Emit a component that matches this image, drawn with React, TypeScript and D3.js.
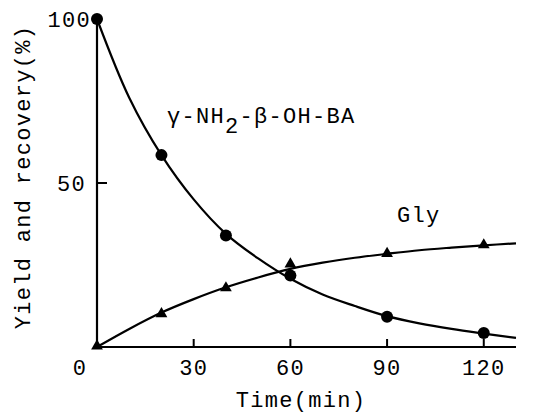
import React from "react";
import * as d3 from "d3";

const timeBA = [0, 20, 40, 60, 90, 120];
const valuesBA = [100, 58.5, 34, 21.8, 9.2, 4.3];
const timeGly = [0, 20, 40, 60, 90, 120];
const valuesGly = [0, 9.8, 17.7, 25, 28.2, 30.8];

const fitTime = [0, 10, 20, 30, 40, 50, 60, 70, 80, 90, 100, 110, 120, 130];
const fitBA = [100, 76, 58.5, 45, 34.5, 27, 20.8, 16, 12.5, 9.4, 7.2, 5.5, 4.1, 2.8];
const fitGly = [0, 5.5, 10.5, 14.6, 18.2, 21.2, 23.8, 25.7, 27.2, 28.4, 29.5, 30.3, 31.0, 31.6];

const xTicks = [30, 60, 90, 120];
const xLabels = [0, 30, 60, 90, 120];
const yTicks = [50];
const yLabels = [50, 100];

const FONT = "'Liberation Mono', 'DejaVu Sans Mono', monospace";

export default function App() {
  const W = 535, H = 416;
  const x = d3.scaleLinear().domain([0, 130]).range([97, 516]);
  const y = d3.scaleLinear().domain([0, 100]).range([347, 19]);
  const mk = (vals: number[]) =>
    d3
      .line<[number, number]>()
      .x((d) => x(d[0]))
      .y((d) => y(d[1]))
      .curve(d3.curveCatmullRom.alpha(0.5))(fitTime.map((t, i) => [t, vals[i]]) as [number, number][]) || "";
  const tri = d3.symbol().type(d3.symbolTriangle).size(60)() || "";
  const textStyle: React.CSSProperties = { fontFamily: FONT, fontSize: 22, letterSpacing: 1.3 };
  return (
    <svg width={W} height={H} style={{ position: "absolute", left: 0, top: 0 }}>
      <rect width={W} height={H} fill="#fff" />
      <line x1={x(0)} x2={x(0)} y1={y(100)} y2={y(0)} stroke="#000" strokeWidth={2.2} />
      <line x1={x(0)} x2={x(130)} y1={y(0)} y2={y(0)} stroke="#000" strokeWidth={2.2} />
      {xTicks.map((t) => (
        <line key={t} x1={x(t)} x2={x(t)} y1={y(0)} y2={y(0) - 8} stroke="#000" strokeWidth={2} />
      ))}
      {yTicks.map((t) => (
        <line key={t} x1={x(0)} x2={x(0) + 10} y1={y(t)} y2={y(t)} stroke="#000" strokeWidth={2} />
      ))}
      {xLabels.map((t) => (
        <text key={t} x={t === 0 ? x(t) - 17 : x(t)} y={y(0) + 28} textAnchor="middle" style={textStyle}>
          {t}
        </text>
      ))}
      {yLabels.map((t) => (
        <text key={t} x={x(0) - (t === 100 ? 6 : 11)} y={y(t) + 8} textAnchor="end" style={textStyle}>
          {t}
        </text>
      ))}
      <text x={301} y={407} textAnchor="middle" style={textStyle}>
        Time(min)
      </text>
      <text transform={`translate(30,177) rotate(-90)`} textAnchor="middle" style={textStyle}>
        Yield and recovery(%)
      </text>
      <path d={mk(fitBA)} fill="none" stroke="#000" strokeWidth={2.2} />
      <path d={mk(fitGly)} fill="none" stroke="#000" strokeWidth={2.2} />
      {timeBA.map((t, i) => (
        <circle key={"c" + t} cx={x(t)} cy={y(valuesBA[i])} r={6} fill="#000" />
      ))}
      {timeGly.map((t, i) => (
        <path key={"t" + t} d={tri} transform={`translate(${x(t)},${y(valuesGly[i]) - 1})`} fill="#000" />
      ))}
      <text x={167} y={123} style={textStyle}>
        γ-NH
        <tspan dy={10}>2</tspan>
        <tspan dy={-10}>-β-OH-BA</tspan>
      </text>
      <text x={397} y={222} style={textStyle}>
        Gly
      </text>
    </svg>
  );
}
